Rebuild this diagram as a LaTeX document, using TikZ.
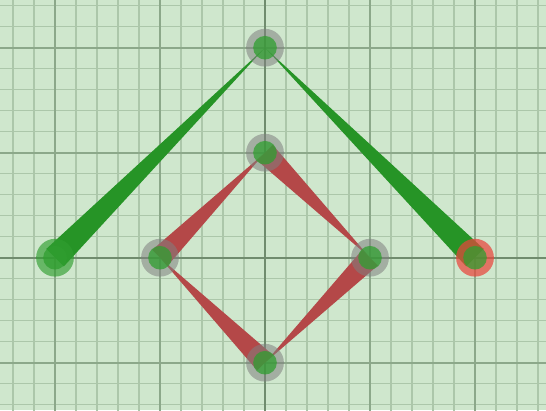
\documentclass[tikz,border=0pt]{standalone}
\usetikzlibrary{calc}
\definecolor{bgc}{RGB}{207,231,205}
\definecolor{minorc}{RGB}{172,199,170}
\definecolor{majorc}{RGB}{140,168,138}
\definecolor{axisc}{RGB}{112,140,110}
\definecolor{wedgegreen}{RGB}{38,148,38}
\definecolor{wedgered}{RGB}{180,72,72}
\definecolor{dotgreen}{RGB}{48,158,48}
\definecolor{halored}{RGB}{232,70,60}
\tikzset{
  halo/.style={circle,fill=gray,fill opacity=0.55,minimum size=0.36cm,inner sep=0pt},
  halogreen/.style={circle,fill=dotgreen,fill opacity=0.65,minimum size=0.36cm,inner sep=0pt},
  halored/.style={circle,fill=halored,fill opacity=0.72,minimum size=0.36cm,inner sep=0pt},
  dot/.style={circle,fill=dotgreen,fill opacity=0.75,minimum size=0.225cm,inner sep=0pt},
  greenwedge/.style={fill=wedgegreen},
  redwedge/.style={fill=wedgered},
}
\begin{document}
\begin{tikzpicture}
\fill[bgc] (-2.5238,-1.4505) rectangle (2.6762,2.4543);
\useasboundingbox (-2.5238,-1.4505) rectangle (2.6762,2.4543);
\draw[minorc,line width=0.3pt] (-2.6,-1.6) grid[step=0.2] (2.8,2.6);
\draw[majorc,line width=0.45pt] (-3,-2) grid[step=1] (3,3);
\draw[axisc,line width=0.6pt] (-2.6,0) -- (2.8,0) (0,-1.6) -- (0,2.6);
% points
\coordinate (T) at (0,2);
\coordinate (U) at (0,1);
\coordinate (L) at (-1,0);
\coordinate (R) at (1,0);
\coordinate (D) at (0,-1);
\coordinate (LL) at (-2,0);
\coordinate (RR) at (2,0);
% green wedges (narrow at top, wide at ends)
\fill[greenwedge] (T) -- ($(LL)!0.118cm!90:(T)$) -- ($(LL)!0.118cm!-90:(T)$) -- cycle;
\fill[greenwedge] (T) -- ($(RR)!0.118cm!90:(T)$) -- ($(RR)!0.118cm!-90:(T)$) -- cycle;
% red wedges (wide at start, narrow at end)
\fill[redwedge] (R) -- ($(U)!0.105cm!90:(R)$) -- ($(U)!0.105cm!-90:(R)$) -- cycle;
\fill[redwedge] (D) -- ($(R)!0.105cm!90:(D)$) -- ($(R)!0.105cm!-90:(D)$) -- cycle;
\fill[redwedge] (L) -- ($(D)!0.105cm!90:(L)$) -- ($(D)!0.105cm!-90:(L)$) -- cycle;
\fill[redwedge] (U) -- ($(L)!0.105cm!90:(U)$) -- ($(L)!0.105cm!-90:(U)$) -- cycle;
% halos and dots
\node[halo] (hT) at (T) {};
\node[halo] (hU) at (U) {};
\node[halo] (hL) at (L) {};
\node[halo] (hR) at (R) {};
\node[halo] (hD) at (D) {};
\node[halogreen] (hLL) at (LL) {};
\node[halored] (hRR) at (RR) {};
\foreach \p in {T,U,L,R,D,LL,RR} \node[dot] (d\p) at (\p) {};
\end{tikzpicture}
\end{document}
